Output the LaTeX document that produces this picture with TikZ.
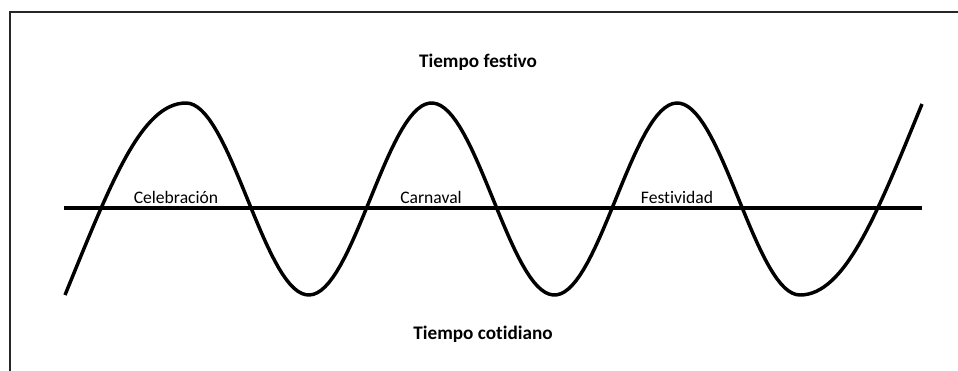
\documentclass[tikz,border=0pt]{standalone}
\usepackage{fontspec}
\setmainfont{Carlito}[Ligatures=NoCommon]
\begin{document}
\begin{tikzpicture}[x=0.75pt,y=-0.75pt,
  titletext/.style={font=\fontsize{14.4}{17}\selectfont\bfseries, inner sep=0pt, anchor=base},
  labeltext/.style={font=\fontsize{13.2}{16}\selectfont, inner sep=0pt, anchor=base},
  frameline/.style={line width=1.1pt, draw=black!85},
  axisline/.style={line width=2.3pt},
  waveline/.style={line width=2.6pt, line join=round}]
\useasboundingbox (0,0) rectangle (958,371);
% frame
\draw[frameline] (10,372) -- (10,12) -- (959,12);
% axis
\coordinate (axL) at (64,208);
\coordinate (axR) at (922,208);
\draw[axisline] (axL) -- (axR);
% wave
\coordinate (wS) at (65,295);
\coordinate (wP1) at (186,103);
\coordinate (wT3) at (800,295);
\coordinate (wE) at (922,104);
\draw[waveline] (wS) .. controls (110,185) and (141,103) .. (wP1)
  -- plot[domain=186:800, samples=160] (\x, {199-96*cos(((\x-186)/245.6)*360)})
  .. controls (845,295) and (877,214) .. (wE);
% texts
\node[titletext] (festivo) at (478,67) {Tiempo festivo};
\node[titletext] (cotidiano) at (483,339) {Tiempo cotidiano};
\node[labeltext] (celebracion) at (176,203) {Celebración};
\node[labeltext] (carnaval) at (431,203) {Carnaval};
\node[labeltext] (festividad) at (677,203) {Festividad};
\end{tikzpicture}
\end{document}
